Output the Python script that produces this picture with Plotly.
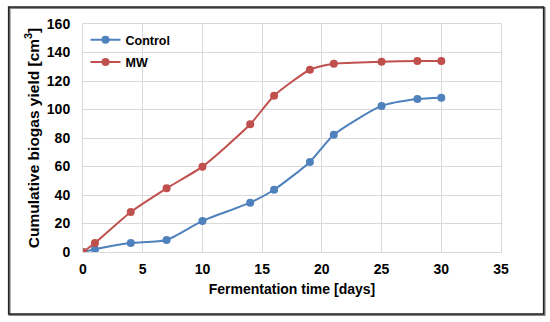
import plotly.graph_objects as go

days_control = [0, 1, 4, 7, 10, 14, 16, 19, 21, 25, 28, 30]
control = [0, 2, 6.3, 8.4, 21.8, 34.6, 43.7, 63.2, 82.3, 102.5, 107.4, 108.3]
days_mw = [0, 1, 4, 7, 10, 14, 16, 19, 21, 25, 28, 30]
mw = [0, 6.3, 28.1, 44.7, 59.9, 89.6, 109.7, 127.9, 132.1, 133.5, 134, 134]

x_ticks = [0, 5, 10, 15, 20, 25, 30, 35]
y_ticks = [0, 20, 40, 60, 80, 100, 120, 140, 160]

FONT = "Liberation Sans, Arial, sans-serif"

fig = go.Figure()
fig.add_trace(go.Scatter(x=days_control, y=control, name="Control", mode="lines+markers",
                         legendgroup="a",
                         line=dict(color="#4F81BD", width=2, shape="spline", smoothing=0.6),
                         marker=dict(size=8, color="#4F81BD")))
fig.add_trace(go.Scatter(x=days_mw, y=mw, name="MW", mode="lines+markers",
                         legendgroup="b",
                         line=dict(color="#C0504D", width=2, shape="spline", smoothing=0.6),
                         marker=dict(size=8, color="#C0504D")))

L, R, T, B = 82.5, 48.7, 24, 70
W, H = 550, 322
pw = W - L - R
ph = H - T - B

def px(x):
    return (x - L) / pw

def py(y):
    return (H - B - y) / ph

fig.update_layout(
    width=W, height=H,
    margin=dict(l=L, r=R, t=T, b=B),
    paper_bgcolor="white", plot_bgcolor="white",
    font=dict(family=FONT, size=14, color="black"),
    showlegend=True,
    legend=dict(x=px(85), y=py(25), xanchor="left", yanchor="top",
                bgcolor="rgba(0,0,0,0)", font=dict(family=FONT, size=12.5, color="black", weight="bold"),
                itemwidth=30, traceorder="grouped", tracegroupgap=3),
    xaxis=dict(range=[0, 35], tickvals=x_ticks, showgrid=True, gridcolor="#D9D9D9", gridwidth=1,
               zeroline=False, showline=True, linecolor="#D9D9D9", mirror=True,
               ticks="", ticklabelstandoff=4, tickfont=dict(family=FONT, size=14, weight="bold"),
               title=dict(text="Fermentation time [days]", font=dict(family=FONT, size=14, weight="bold"), standoff=8)),
    yaxis=dict(range=[0, 160], tickvals=y_ticks, showgrid=True, gridcolor="#D9D9D9", gridwidth=1,
               zeroline=False, showline=True, linecolor="#D9D9D9", mirror=True,
               ticks="", ticklabelstandoff=9, tickfont=dict(family=FONT, size=14, weight="bold"),
               title=dict(text="Cumulative biogas yield [cm<sup>3</sup>]", font=dict(family=FONT, size=15.5, weight="bold"), standoff=3)),
    shapes=[
        dict(type="rect", xref="paper", yref="paper", x0=px(9), x1=px(545), y0=py(315), y1=py(8),
             line=dict(color="#888888", width=2), layer="above"),
        dict(type="rect", xref="paper", yref="paper", x0=px(8), x1=px(544), y0=py(314), y1=py(7),
             line=dict(color="#222222", width=1.5), layer="above"),
    ],
)

fig.write_html("out.html", config={"displayModeBar": False},
               post_script="document.body.style.margin='0';document.body.style.overflow='hidden';")
